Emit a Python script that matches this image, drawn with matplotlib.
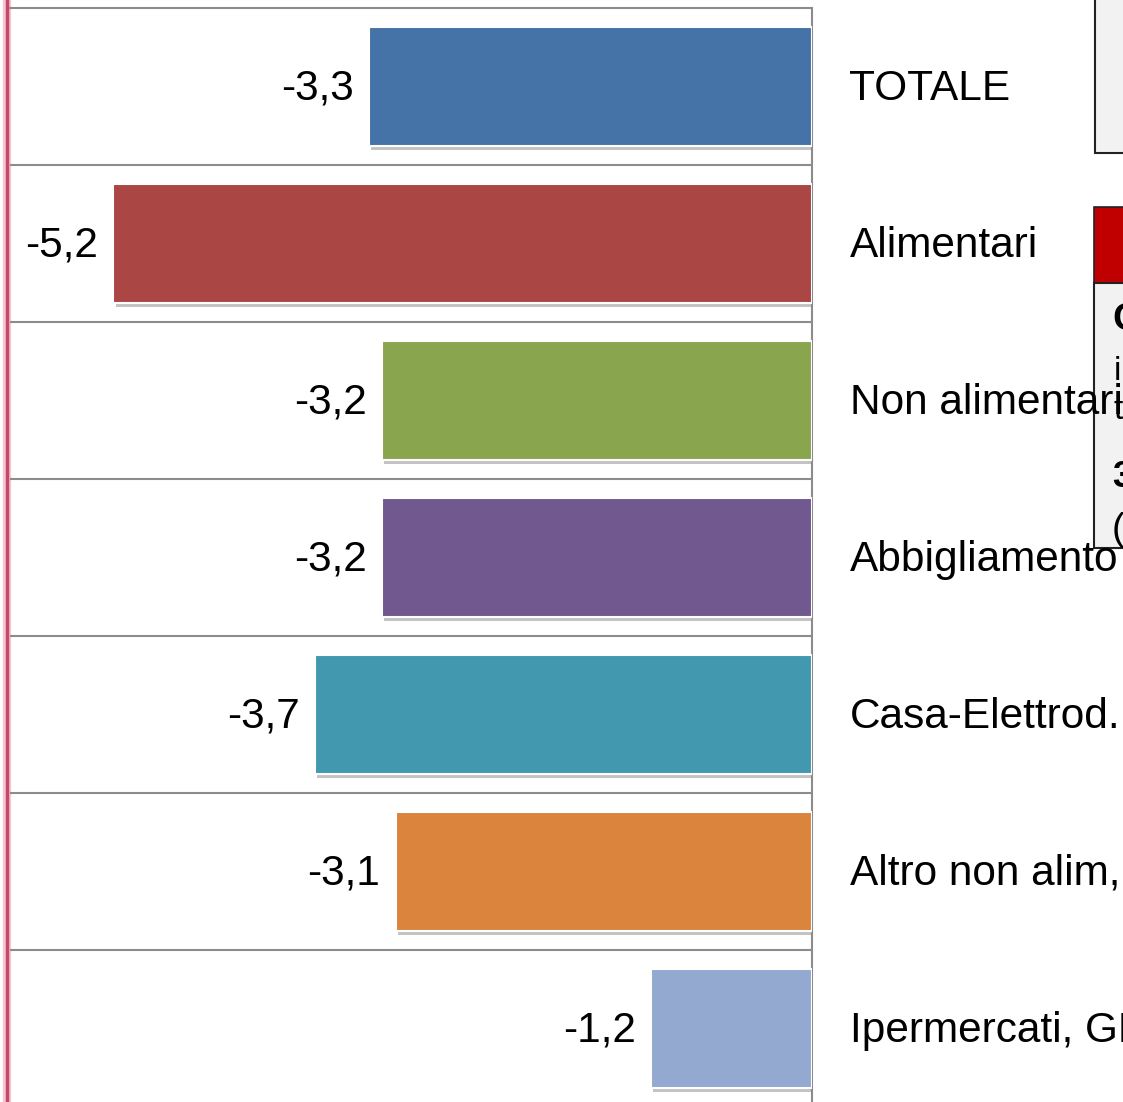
import matplotlib
matplotlib.use("Agg")
import matplotlib.pyplot as plt
from matplotlib.patches import Rectangle
from matplotlib.lines import Line2D
import matplotlib.patheffects as pe

categories = ["TOTALE", "Alimentari", "Non alimentari", "Abbigliamento",
              "Casa-Elettrod.", "Altro non alim,", "Ipermercati, GM"]
values = [-3.3, -5.2, -3.2, -3.2, -3.7, -3.1, -1.2]
value_labels = ["-3,3", "-5,2", "-3,2", "-3,2", "-3,7", "-3,1", "-1,2"]
colors = ["#4572a7", "#aa4643", "#89a54e", "#71588f", "#4198af", "#db843d", "#93a9cf"]

plt.rcParams['font.family'] = ['Liberation Sans', 'DejaVu Sans']

W, H = 1123, 1102
fig = plt.figure(figsize=(W / 100, H / 100), dpi=100)

def fx(px):
    return px / W

def fy(py):
    return 1 - py / H

left, right, top, bottom = 10, 812, 8, 1107
ax = fig.add_axes([fx(left), fy(bottom), fx(right - left), (bottom - top) / H])
ax.set_zorder(5)
ax.patch.set_alpha(0)

ypos = list(range(len(categories)))
bars = ax.barh(ypos, values, height=0.76, color=colors, edgecolor="white", linewidth=1.5,
               zorder=3)
for b in bars:
    b.set_path_effects([pe.SimplePatchShadow(offset=(1.5, -2.5), shadow_rgbFace="#888888", alpha=0.5),
                        pe.Normal()])

ax.set_xlim(-5.97, 0)
ax.set_ylim(len(categories) - 0.5, -0.5)

for y in range(len(categories) - 1):
    ax.axhline(y + 0.5, color="#8c8c8c", linewidth=1.5, zorder=1)

for sp in ["left", "bottom"]:
    ax.spines[sp].set_visible(False)
for sp in ["top", "right"]:
    ax.spines[sp].set_color("#8c8c8c")
    ax.spines[sp].set_linewidth(1.5)
ax.set_xticks([])
ax.set_yticks([])

for y, v, lab, cat in zip(ypos, values, value_labels, categories):
    ax.annotate(lab, xy=(v, y), xytext=(-11, -1.5), textcoords="offset points",
                ha="right", va="center", fontsize=30.5, color="black")
    ax.annotate(cat, xy=(0, y), xytext=(27, -1.5), textcoords="offset points",
                ha="left", va="center", fontsize=30.5, color="black", annotation_clip=False)

# decorative left vertical line
fig.add_artist(Line2D([fx(7), fx(7)], [0, 1], transform=fig.transFigure,
                      color="#f3c8d2", linewidth=6, zorder=0))
fig.add_artist(Line2D([fx(7), fx(7)], [0, 1], transform=fig.transFigure,
                      color="#c8456b", linewidth=2.5, zorder=1))

# partially visible boxes at the right edge
fig.add_artist(Rectangle((fx(1095), fy(153)), fx(60), (153 + 20) / H, transform=fig.transFigure,
                         facecolor="#f2f2f2", edgecolor="#222222", linewidth=1.5, zorder=2))
fig.add_artist(Rectangle((fx(1094), fy(283)), fx(60), (283 - 207) / H, transform=fig.transFigure,
                         facecolor="#c00000", edgecolor="#222222", linewidth=1.2, zorder=2))
fig.add_artist(Rectangle((fx(1094), fy(548)), fx(60), (548 - 283) / H, transform=fig.transFigure,
                         facecolor="#f2f2f2", edgecolor="#222222", linewidth=1.5, zorder=2))
fig.text(fx(1112), fy(320), "C", fontsize=28, fontweight="bold", va="center", ha="left", zorder=3)
fig.text(fx(1114), fy(372), "i", fontsize=24, va="center", ha="left", zorder=3)
fig.text(fx(1114), fy(410), "t", fontsize=24, va="center", ha="left", zorder=3)
fig.text(fx(1112), fy(478), "3", fontsize=26, fontweight="bold", va="center", ha="left", zorder=3)
fig.text(fx(1112), fy(530), "(", fontsize=28, va="center", ha="left", zorder=3)

fig.savefig("out.png", dpi=100)
